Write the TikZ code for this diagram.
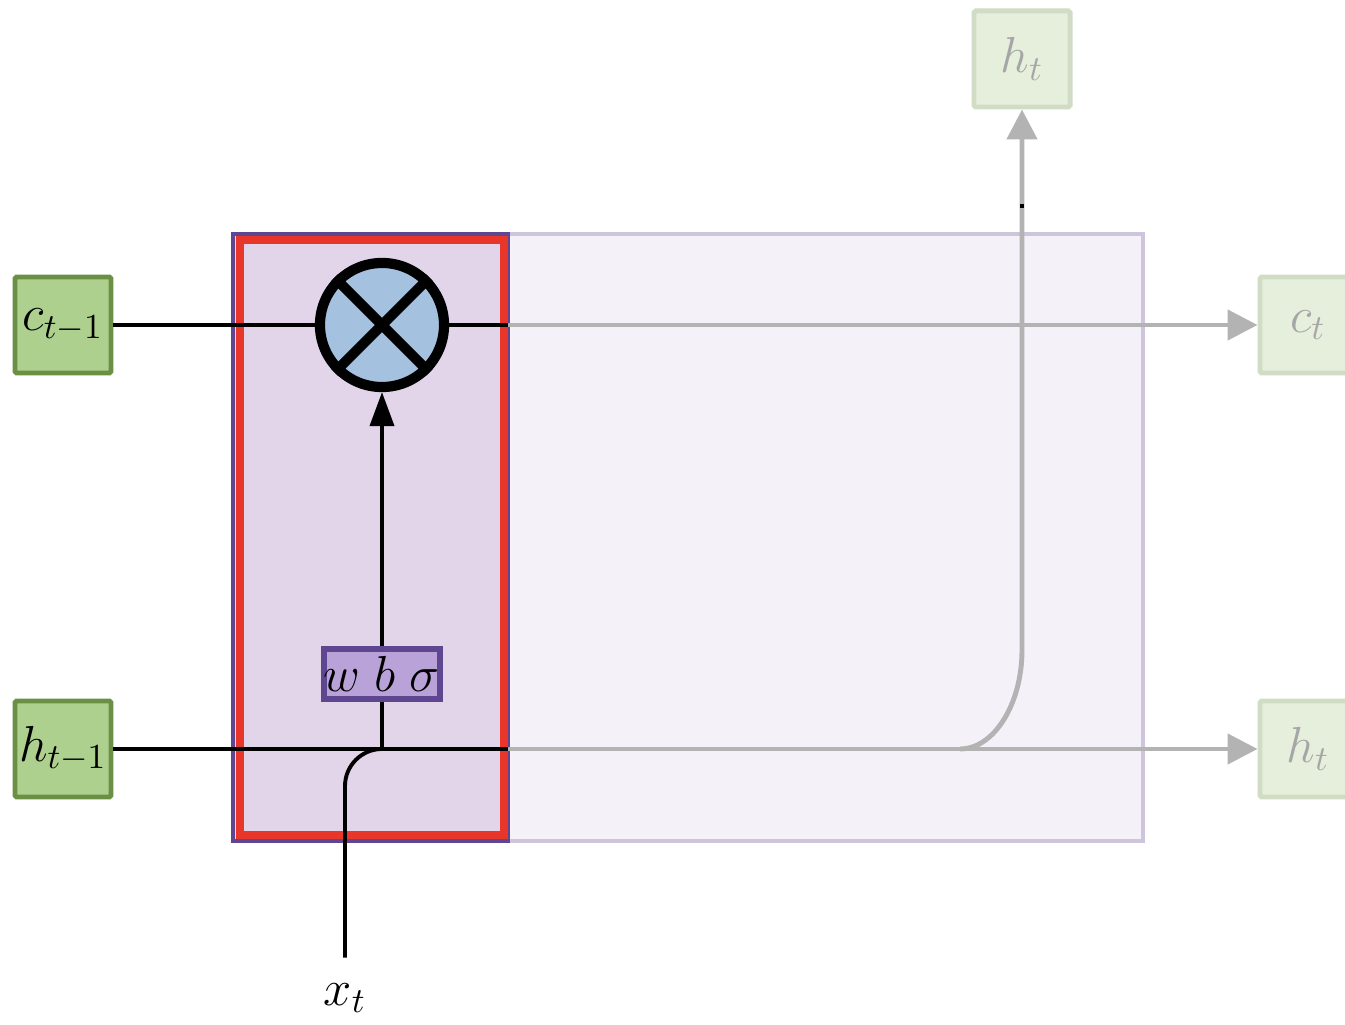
\documentclass[tikz,border=0pt]{standalone}
\usetikzlibrary{arrows.meta,positioning,calc}
\definecolor{ingreen}{HTML}{AED08E}
\definecolor{ingreenedge}{HTML}{6A8F45}
\definecolor{outgreen}{HTML}{E6EFDC}
\definecolor{outgreenedge}{HTML}{D0DDC4}
\definecolor{outtext}{HTML}{A6A6A6}
\definecolor{cellfill}{HTML}{F4F1F8}
\definecolor{celledge}{HTML}{CEC4DC}
\definecolor{gatefill}{HTML}{E2D5EA}
\definecolor{gateedge}{HTML}{5E4690}
\definecolor{gatered}{HTML}{E8372A}
\definecolor{multfill}{HTML}{A4C2E0}
\definecolor{layerfill}{HTML}{B9A2D8}
\definecolor{flowgray}{HTML}{B3B3B3}
\tikzset{
  inbox/.style={draw=ingreenedge, fill=ingreen, line width=1.4pt, rounded corners=0.5pt, minimum size=0.96cm, inner sep=0pt, font=\Large},
  outbox/.style={draw=outgreenedge, fill=outgreen, line width=1.4pt, rounded corners=0.5pt, minimum size=0.96cm, inner sep=0pt, font=\Large, text=outtext},
  mult/.style={circle, draw=black, fill=multfill, line width=2.9pt, minimum size=1.24cm, inner sep=0pt},
  layerbox/.style={draw=gateedge, fill=layerfill, line width=1.5pt, minimum width=1.13cm, minimum height=0.5cm, inner sep=0pt, font=\Large},
  blackline/.style={line width=1.1pt, draw=black},
  blackarrow/.style={-{Triangle[length=3.4mm,width=2.4mm]}, line width=1.1pt},
  grayline/.style={line width=1.4pt, draw=flowgray},
  grayarrow/.style={-{Triangle[length=3mm,width=3mm]}, line width=1.4pt, draw=flowgray}
}
\begin{document}
\begin{tikzpicture}[x=0.01cm, y=-0.01cm]
\useasboundingbox (0,0) rectangle (1345,1025);
% cell and forget gate background
\filldraw[fill=cellfill, draw=celledge, line width=0.9pt] (233,234) rectangle (1143,841);
\filldraw[fill=gatefill, draw=gateedge, line width=0.9pt] (233,234) rectangle (508,841);
\draw[gatered, line width=2.3pt] (240,240) rectangle (504,835);
% nodes
\node[inbox] (cprev) at (63,325) {$c_{t-1}$};
\node[inbox] (hprev) at (63,749) {$h_{t-1}$};
\node[mult] (mul) at (382,325) {};
\draw[line width=2.9pt] (mul.45) -- (mul.225) (mul.135) -- (mul.315);
\node[layerbox] (layer) at (382,674) {$w\;b\;\sigma$};
\node[outbox] (htop) at (1022,59) {$h_t$};
\node[outbox] (cnext) at (1308,325) {$c_t$};
\node[outbox] (hnext) at (1308,749) {$h_t$};
\node[font=\Large, inner sep=2pt] (xin) at (345,998) {$x_t$};
\coordinate (cgate) at (508,325);
\coordinate (hgate) at (508,749);
\coordinate (hjoin) at (382,749);
\coordinate (hsplit) at (960,749);
\coordinate (hbend) at (1022,650);
% connectors
\draw[blackline] (cprev) -- (mul);
\draw[blackline] (mul) -- (cgate);
\draw[grayarrow] (cgate) -- (cnext);
\draw[blackline] (hprev) -- (hgate);
\draw[grayarrow] (hgate) -- (hnext);
\draw[blackarrow] (layer) -- (mul);
\draw[blackline] (layer) -- (hjoin);
\draw[blackline, rounded corners=3.7mm] ($(xin.north)+(0,-18)$) |- (hjoin);
\draw[grayarrow] (hsplit) .. controls (994,749) and (1022,704) .. (hbend) -- (htop);
\draw[line width=1.4pt] (1022,204) -- (1022,208);
\end{tikzpicture}
\end{document}
